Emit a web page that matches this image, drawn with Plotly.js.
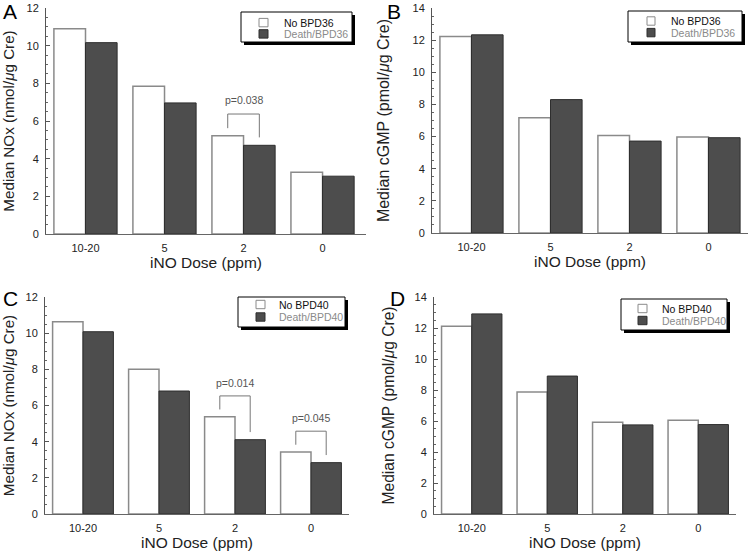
<!DOCTYPE html>
<html>
<head>
<meta charset="utf-8">
<script src="https://cdn.plot.ly/plotly-3.0.1.min.js"></script>
<style>html,body{margin:0;padding:0;background:#fff;}#chart{width:751px;height:553px;}</style>
</head>
<body>
<div id="chart"></div>
<script>
// ---- data ----
const categories = ['10-20', '5', '2', '0'];
const noBPD36_NOx = [10.9, 7.84, 5.22, 3.28];
const deathBPD36_NOx = [10.16, 6.96, 4.71, 3.07];
const noBPD36_cGMP = [12.22, 7.17, 6.07, 5.97];
const deathBPD36_cGMP = [12.33, 8.30, 5.72, 5.93];
const noBPD40_NOx = [10.63, 8.00, 5.38, 3.43];
const deathBPD40_NOx = [10.08, 6.80, 4.11, 2.84];
const noBPD40_cGMP = [12.12, 7.87, 5.92, 6.05];
const deathBPD40_cGMP = [12.91, 8.90, 5.75, 5.77];
const seriesNames36 = ['No BPD36', 'Death/BPD36'];
const seriesNames40 = ['No BPD40', 'Death/BPD40'];
const panelLetters = ['A', 'B', 'C', 'D'];
const xTitle = 'iNO Dose (ppm)';
const yTitleNOx = 'Median NOx (nmol/<i>μ</i>g Cre)';
const yTitleCGMP = 'Median cGMP (pmol/<i>μ</i>g Cre)';
const pCatsA = ['2'];
const pLabelsA = ['p=0.038'];
const pCatsC = ['2', '0'];
const pLabelsC = ['p=0.014', 'p=0.045'];

// ---- geometry helpers ----
const W = 751, H = 553;
const px = v => v / W;
const py = v => 1 - v / H;

const FONT = 'Liberation Sans, Arial, Helvetica, sans-serif';
const WHITE_FILL = '#ffffff', WHITE_LINE = '#8a8a8a';
const DARK_FILL = '#4d4d4d', DARK_LINE = '#2e2e2e';

const panels = [
  {xa: 'x', ya: 'y', no: noBPD36_NOx, death: deathBPD36_NOx, names: seriesNames36,
   dom: [46, 366, 8, 234], range: [-0.5, 3.55], yr: [0, 12], ytitle: yTitleNOx, ysize: 15.2, ystand: 10,
   letter: [10, 11], legend: {box: [241, 12, 352, 42], sq: [259, 268], rows: [22.6, 33.9], tx: 282},
   pc: pCatsA, pl: pLabelsA},
  {xa: 'x2', ya: 'y2', no: noBPD36_cGMP, death: deathBPD36_cGMP, names: seriesNames36,
   dom: [432, 748, 8, 233], range: [-0.5, 3.5], yr: [0, 14], ytitle: yTitleCGMP, ysize: 16, ystand: 18,
   letter: [394, 11], legend: {box: [628, 11, 742, 42], sq: [647, 655], rows: [21, 32.6], tx: 669},
   pc: [], pl: []},
  {xa: 'x3', ya: 'y3', no: noBPD40_NOx, death: deathBPD40_NOx, names: seriesNames40,
   dom: [45, 349, 297, 514], range: [-0.5, 3.5], yr: [0, 12], ytitle: yTitleNOx, ysize: 15.2, ystand: 10,
   letter: [10, 298], legend: {box: [238, 297, 345, 327], sq: [256, 265], rows: [304.5, 317], tx: 277},
   pc: pCatsC, pl: pLabelsC},
  {xa: 'x4', ya: 'y4', no: noBPD40_cGMP, death: deathBPD40_cGMP, names: seriesNames40,
   dom: [434, 736, 297, 514], range: [-0.5, 3.5], yr: [0, 14], ytitle: yTitleCGMP, ysize: 15.6, ystand: 16,
   letter: [397, 298], legend: {box: [621, 299, 727, 330], sq: [638, 647], rows: [308.5, 320.5], tx: 660},
   pc: [], pl: []}
];

const traces = [];
const shapes = [];
const annotations = [];
const layout = {
  width: W, height: H,
  margin: {l: 0, r: 0, t: 0, b: 0},
  paper_bgcolor: '#ffffff', plot_bgcolor: '#ffffff',
  font: {family: FONT, color: '#222'},
  barmode: 'group', bargap: 0.2, bargroupgap: 0,
  showlegend: false
};

panels.forEach((p, i) => {
  const n = i === 0 ? '' : String(i + 1);
  traces.push({
    type: 'bar', x: categories, y: p.no, name: p.names[0], xaxis: p.xa, yaxis: p.ya,
    marker: {color: WHITE_FILL, line: {color: WHITE_LINE, width: 1.5}}, hoverinfo: 'x+y+name'
  });
  traces.push({
    type: 'bar', x: categories, y: p.death, name: p.names[1], xaxis: p.xa, yaxis: p.ya,
    marker: {color: DARK_FILL, line: {color: DARK_LINE, width: 1}}, hoverinfo: 'x+y+name'
  });
  layout['xaxis' + n] = {
    domain: [px(p.dom[0]), px(p.dom[1])], anchor: p.ya, type: 'category',
    categoryorder: 'array', categoryarray: categories, range: p.range,
    showline: true, linecolor: '#666', linewidth: 1, ticks: '', showgrid: false, zeroline: false,
    tickfont: {size: 11, color: '#222', family: FONT}, ticklabelstandoff: 4,
    title: {text: xTitle, font: {size: 15.5, color: '#222', family: FONT}, standoff: 3}
  };
  layout['yaxis' + n] = {
    domain: [py(p.dom[3]), py(p.dom[2])], anchor: p.xa, range: p.yr, dtick: 2,
    showline: true, linecolor: '#555', linewidth: 1, showgrid: false, zeroline: false,
    ticks: 'inside', ticklen: 4, tickcolor: '#555', tickwidth: 1,
    minor: {dtick: 0.5, ticks: 'inside', ticklen: 2, tickcolor: '#666', tickwidth: 1, showgrid: false},
    tickfont: {size: 11, color: '#222', family: FONT}, ticklabelstandoff: 4,
    title: {text: p.ytitle, font: {size: p.ysize, color: '#222', family: FONT}, standoff: p.ystand}
  };
  // panel letter
  annotations.push({xref: 'paper', yref: 'paper', x: px(p.letter[0]), y: py(p.letter[1]),
    xanchor: 'center', yanchor: 'middle', text: panelLetters[i], showarrow: false,
    font: {size: 21, color: '#000', family: FONT}});
  // legend box with drop shadow
  const L = p.legend;
  shapes.push({type: 'rect', xref: 'paper', yref: 'paper', x0: px(L.box[0] + 3), x1: px(L.box[2] + 3),
    y0: py(L.box[3] + 3), y1: py(L.box[1] + 3), fillcolor: '#000', line: {width: 0}});
  shapes.push({type: 'rect', xref: 'paper', yref: 'paper', x0: px(L.box[0]), x1: px(L.box[2]),
    y0: py(L.box[3]), y1: py(L.box[1]), fillcolor: '#fff', line: {color: '#000', width: 1}});
  const fills = [WHITE_FILL, DARK_FILL];
  const lines = [WHITE_LINE, DARK_LINE];
  const tcol = ['#111', '#8a8a8a'];
  L.rows.forEach((ry, k) => {
    shapes.push({type: 'rect', xref: 'paper', yref: 'paper', x0: px(L.sq[0]), x1: px(L.sq[1]),
      y0: py(ry + 4.2), y1: py(ry - 4.2), fillcolor: fills[k], line: {color: lines[k], width: 1}});
    annotations.push({xref: 'paper', yref: 'paper', x: px(L.tx), y: py(ry), xanchor: 'left', yanchor: 'middle',
      text: p.names[k], showarrow: false, font: {size: 10.5, color: tcol[k], family: FONT}});
  });
  // significance brackets (category index positions on the category axis)
  p.pc.forEach((cat, k) => {
    const idx = categories.indexOf(cat);
    const wv = p.no[idx], dv = p.death[idx];
    const top = wv + 1.15;
    const ln = {color: '#777', width: 1};
    shapes.push({type: 'line', xref: p.xa, yref: p.ya, x0: idx - 0.2, x1: idx - 0.2, y0: wv + 0.4, y1: top, line: ln});
    shapes.push({type: 'line', xref: p.xa, yref: p.ya, x0: idx - 0.2, x1: idx + 0.2, y0: top, y1: top, line: ln});
    shapes.push({type: 'line', xref: p.xa, yref: p.ya, x0: idx + 0.2, x1: idx + 0.2, y0: dv + 0.42, y1: top, line: ln});
    annotations.push({xref: p.xa, yref: p.ya, x: idx, y: top + 0.72, xanchor: 'center', yanchor: 'middle',
      text: p.pl[k], showarrow: false, font: {size: 10.5, color: '#555', family: FONT}});
  });
});

layout.shapes = shapes;
layout.annotations = annotations;

Plotly.newPlot('chart', traces, layout, {displayModeBar: false, staticPlot: true});
</script>
</body>
</html>
